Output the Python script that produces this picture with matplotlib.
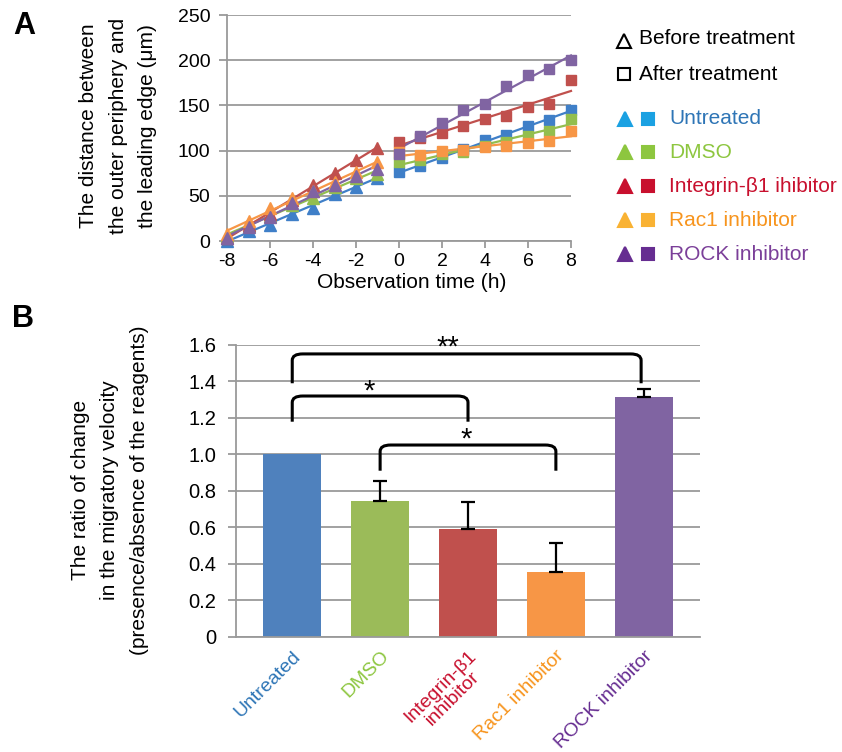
import numpy as np
import matplotlib
matplotlib.use("Agg")
import matplotlib.pyplot as plt
from matplotlib.lines import Line2D
from matplotlib.path import Path
from matplotlib.patches import PathPatch

plt.rcParams['font.family'] = ['Liberation Sans', 'DejaVu Sans']
plt.rcParams['axes.unicode_minus'] = False

# --- Panel A data ---
t_before = [-8, -7, -6, -5, -4, -3, -2, -1]
t_after = [0, 1, 2, 3, 4, 5, 6, 7, 8]

untreated_before = [0, 11, 18, 30, 37, 52, 60, 70]
untreated_after = [76, 83, 92, 102, 112, 117, 127, 134, 145]
dmso_before = [5, 17, 28, 40, 48, 60, 70, 74]
dmso_after = [87, 90, 96, 98, 105, 110, 116, 122, 135]
integrin_before = [3, 18, 30, 45, 62, 75, 90, 103]
integrin_after = [110, 114, 120, 127, 135, 138, 148, 152, 178]
rac1_before = [8, 22, 36, 48, 55, 65, 76, 87]
rac1_after = [98, 95, 100, 101, 104, 105, 108, 111, 122]
rock_before = [3, 16, 26, 42, 55, 62, 72, 80]
rock_after = [96, 116, 130, 145, 152, 171, 184, 190, 200]

groups = ["Untreated", "DMSO", "Integrin-\u03b21 ihibitor", "Rac1 inhibitor", "ROCK inhibitor"]
before = [untreated_before, dmso_before, integrin_before, rac1_before, rock_before]
after = [untreated_after, dmso_after, integrin_after, rac1_after, rock_after]

plot_colors = ["#3F7FC8", "#93BE4E", "#C0504D", "#F79646", "#8064A2"]
legend_marker_colors = ["#1BA1E2", "#8DC63F", "#C8102E", "#F9B233", "#662D91"]
legend_text_colors = ["#2E75B6", "#8DC63F", "#C8102E", "#F7941D", "#7B3F99"]

# --- Panel B data ---
bar_labels = ["Untreated", "DMSO", "Integrin-\u03b21\ninhibitor", "Rac1 inhibitor", "ROCK inhibitor"]
bar_values = [1.0, 0.745, 0.59, 0.355, 1.315]
bar_errors = [0.0, 0.11, 0.15, 0.16, 0.045]
bar_colors = ["#4F81BD", "#9BBB59", "#C0504D", "#F79646", "#8064A2"]
bar_label_colors = ["#2E75B6", "#8DC63F", "#C8102E", "#F7941D", "#662D91"]

W, H = 842, 752
fig = plt.figure(figsize=(W / 100, H / 100), dpi=100)


def fx(px):
    return px / W


def fy(py):
    return 1 - py / H


grid_color = "#9A9A9A"

# ================= Panel A =================
axA = fig.add_axes([fx(227), fy(241), fx(571 - 227), (241 - 15) / H])
for i in range(5):
    c = plot_colors[i]
    axA.plot(t_before, before[i], linestyle="none", marker="^", markersize=8,
             color=c, clip_on=False, zorder=3)
    axA.plot(t_after, after[i], linestyle="none", marker="s", markersize=7.5,
             color=c, clip_on=False, zorder=3)
    # linear trend lines for each period
    for tt, vv in ((t_before, before[i]), (t_after, after[i])):
        k, b = np.polyfit(tt, vv, 1)
        xs = np.array([tt[0], tt[-1]])
        axA.plot(xs, k * xs + b, color=c, lw=1.6, zorder=2, clip_on=False)

axA.set_xlim(-8, 8)
axA.set_ylim(0, 250)
axA.set_xticks(np.arange(-8, 9, 2))
axA.set_yticks(np.arange(0, 251, 50))
axA.grid(axis="y", color=grid_color, lw=1.3)
axA.set_axisbelow(True)
for s in ("top", "right"):
    axA.spines[s].set_visible(False)
for s in ("left", "bottom"):
    axA.spines[s].set_color(grid_color)
    axA.spines[s].set_linewidth(1.3)
axA.tick_params(axis="x", direction="out", length=5, color=grid_color, width=1.3,
                labelsize=14, pad=4)
axA.tick_params(axis="y", direction="out", length=6, color=grid_color, width=1.3,
                labelsize=14, pad=6)
fig.text(fx(412), fy(283), "Observation time (h)", fontsize=15, ha="center", va="center")
fig.text(fx(118), fy(126), "The distance between\nthe outer periphery and\nthe leading edge (\u03bcm)",
         fontsize=15, rotation=90, ha="center", va="center", multialignment="center",
         linespacing=1.7)

# legend of panel A
def fig_marker(px, py, marker, color, filled=True, size=10):
    ln = Line2D([fx(px)], [fy(py)], transform=fig.transFigure, marker=marker,
                markersize=size, linestyle="none",
                markerfacecolor=color if filled else "none",
                markeredgecolor=color, markeredgewidth=1.5)
    fig.add_artist(ln)


fig_marker(624, 41, "^", "black", filled=False, size=10)
fig.text(fx(639), fy(39), "Before treatment", fontsize=15, va="center")
fig_marker(624, 74, "s", "black", filled=False, size=9)
fig.text(fx(639), fy(74), "After treatment", fontsize=15, va="center")
rows_y = [119, 152, 186, 220, 254]
for i in range(5):
    fig_marker(625, rows_y[i], "^", legend_marker_colors[i], size=10)
    fig_marker(648, rows_y[i], "s", legend_marker_colors[i], size=9)
    fig.text(fx(669), fy(rows_y[i]), groups[i], fontsize=15, va="center",
             color=legend_text_colors[i])

# ================= Panel B =================
axB = fig.add_axes([fx(236), fy(636.5), fx(700 - 236), (636.5 - 345) / H])
xpos = np.arange(len(bar_values))
axB.bar(xpos, bar_values, width=0.66, color=bar_colors, zorder=2)
err_x = [x for x, e in zip(xpos, bar_errors) if e > 0]
err_v = [v for v, e in zip(bar_values, bar_errors) if e > 0]
err_e = [e for e in bar_errors if e > 0]
axB.errorbar(err_x, err_v, yerr=[np.zeros(len(err_e)), err_e], fmt="none",
             ecolor="black", elinewidth=1.6, capsize=5, capthick=1.6, zorder=3)
axB.set_xlim(-0.64, 4.64)
axB.set_ylim(0, 1.6)
axB.set_yticks(np.arange(0, 1.61, 0.2))
axB.set_yticklabels(["0"] + ["%.1f" % v for v in np.arange(0.2, 1.61, 0.2)])
axB.grid(axis="y", color=grid_color, lw=1.3)
axB.set_axisbelow(True)
for s in ("top", "right"):
    axB.spines[s].set_visible(False)
for s in ("left", "bottom"):
    axB.spines[s].set_color(grid_color)
    axB.spines[s].set_linewidth(1.3)
axB.tick_params(axis="y", direction="out", length=6, color=grid_color, width=1.3,
                labelsize=14.5, pad=8)
axB.tick_params(axis="x", length=0, labelsize=14, pad=8)
axB.set_xticks(xpos)
axB.set_xticklabels(bar_labels, rotation=45, ha="right", va="top",
                    rotation_mode="anchor", multialignment="center", linespacing=0.95)
for lbl, c in zip(axB.get_xticklabels(), bar_label_colors):
    lbl.set_color(c)

fig.text(fx(110), fy(490), "The ratio of change\nin the migratory velocity\n(presence/absence of the reagents)",
         fontsize=15, rotation=90, ha="center", va="center", multialignment="center",
         linespacing=1.7)


def bracket(ax, x0, x1, ytop, ybot, rx=0.12, ry=0.035):
    verts = [(x0, ybot), (x0, ytop - ry), (x0, ytop), (x0 + rx, ytop),
             (x1 - rx, ytop), (x1, ytop), (x1, ytop - ry), (x1, ybot)]
    codes = [Path.MOVETO, Path.LINETO, Path.CURVE3, Path.CURVE3,
             Path.LINETO, Path.CURVE3, Path.CURVE3, Path.LINETO]
    ax.add_patch(PathPatch(Path(verts, codes), fill=False, lw=2.2,
                           edgecolor="black", clip_on=False, zorder=4))


bracket(axB, 0, 3.97, 1.551, 1.39)
bracket(axB, 0, 2.0, 1.32, 1.179)
bracket(axB, 1.0, 3.0, 1.051, 0.91)
axB.text(1.77, 1.585, "**", fontsize=21, ha="center", va="center", clip_on=False)
axB.text(0.88, 1.345, "*", fontsize=21, ha="center", va="center")
axB.text(1.98, 1.08, "*", fontsize=21, ha="center", va="center")

fig.text(fx(24), fy(26), "A", fontsize=22, fontweight="bold", ha="center", va="center")
fig.text(fx(23), fy(319), "B", fontsize=22, fontweight="bold", ha="center", va="center")

fig.savefig("out.png", dpi=100)
